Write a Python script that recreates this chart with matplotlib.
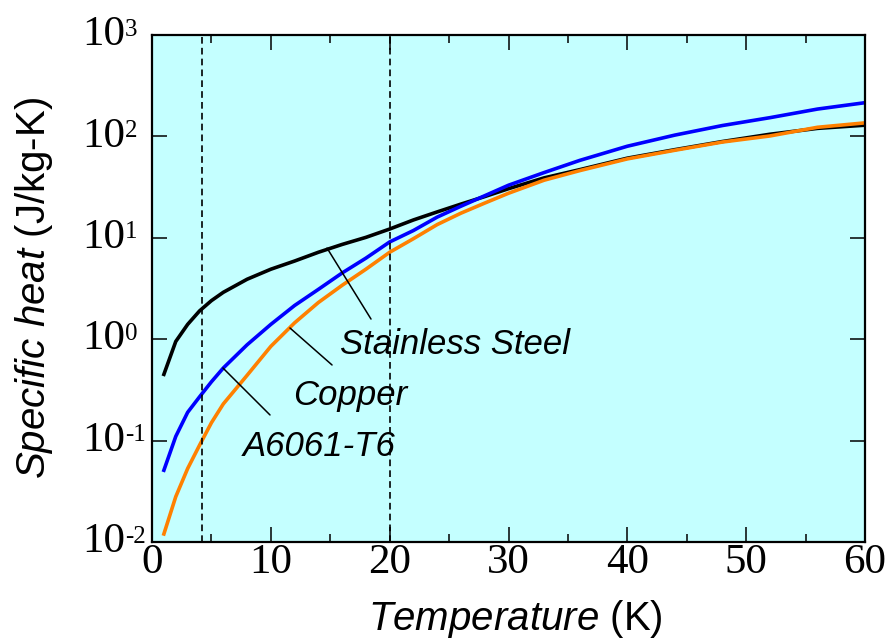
import matplotlib
matplotlib.use('Agg')
import matplotlib.pyplot as plt
from matplotlib.ticker import FixedLocator, NullLocator, NullFormatter

# temperature (K) and specific heat (J/kg-K)
temps = [1, 2, 3, 4, 5, 6, 8, 10, 12, 14, 16, 18, 20, 22, 24, 26, 28, 30,
         33, 36, 40, 44, 48, 52, 56, 60]
stainless = [0.45, 0.95, 1.4, 1.9, 2.4, 2.9, 3.9, 4.9, 5.9, 7.2, 8.6, 10.1,
             12.2, 15, 18, 21.5, 25.5, 30.5, 39, 47, 61, 74, 89, 105, 120, 129]
a6061 = [0.051, 0.11, 0.19, 0.27, 0.38, 0.52, 0.88, 1.4, 2.15, 3.1, 4.5, 6.3,
         9.1, 11.8, 16, 20.5, 26, 33, 44, 58, 80, 103, 128, 153, 186, 215]
copper = [0.012, 0.028, 0.053, 0.09, 0.15, 0.23, 0.44, 0.85, 1.45, 2.3, 3.4,
          4.9, 7.2, 9.8, 13.5, 17.5, 22, 27.5, 37, 46, 60, 73, 88, 101, 123, 136]

x_ticks = [0, 10, 20, 30, 40, 50, 60]
x_minor = [5, 15, 25, 35, 45, 55]
y_exps = [-2, -1, 0, 1, 2, 3]
y_exp_labels = ['-2', '-1', '0', '1', '2', '3']
ref_temps = [4.2, 20]

plt.rcParams['mathtext.fontset'] = 'custom'
plt.rcParams['mathtext.it'] = 'Liberation Sans:italic'
plt.rcParams['mathtext.rm'] = 'Liberation Sans'

fig = plt.figure(figsize=(8.9, 6.43), dpi=100)
ax = fig.add_axes([152 / 890, 1 - 542 / 643, 713 / 890, 507 / 643])
ax.set_facecolor('#c4ffff')

ax.plot(temps, stainless, color='black', lw=2.6)
ax.plot(temps, a6061, color='#0000ff', lw=2.6)
ax.plot(temps, copper, color='#ff8000', lw=2.6)
for t in ref_temps:
    ax.axvline(t, color='black', lw=1.2, dashes=(4, 2.5))

ax.set_yscale('log')
ax.set_xlim(0, 60)
ax.set_ylim(1e-2, 1e3)
ax.set_xticks(x_ticks)
ax.set_xticks(x_minor, minor=True)
ax.set_xticklabels([str(v) for v in x_ticks], family='Liberation Serif', fontsize=31)
ax.yaxis.set_major_locator(FixedLocator([10.0 ** e for e in y_exps]))
ax.yaxis.set_minor_locator(NullLocator())
ax.yaxis.set_major_formatter(NullFormatter())
ax.yaxis.set_minor_formatter(NullFormatter())
ax.tick_params(which='both', direction='in', top=True, right=True, width=1.1)
ax.tick_params(which='major', length=10.8)
ax.tick_params(which='minor', length=5.8)
ax.tick_params(axis='x', pad=1)
for s in ax.spines.values():
    s.set_linewidth(1.6)

# y tick labels as 10 with a small raised exponent
ytr = ax.get_yaxis_transform()
for e, lab in zip(y_exps, y_exp_labels):
    base = ax.text(-0.098, 10.0 ** e, '10', transform=ytr, ha='left', va='center',
                   family='Liberation Serif', fontsize=31)
    ax.annotate(lab, xy=(1, 1), xycoords=base, xytext=(0, -2),
                textcoords='offset points', ha='left', va='top',
                family='Liberation Serif', fontsize=18)

ax.set_xlabel(r'$\mathit{Temperature}$ (K)', fontsize=29, family='Liberation Sans')
ax.xaxis.label.set_va('baseline')
ax.xaxis.set_label_coords(0.51, -0.1736)
ax.set_ylabel(r'$\mathit{Specific\ heat}$ (J/kg-K)', fontsize=29, family='Liberation Sans')
ax.yaxis.set_label_coords(-0.136, 0.5)

# leader lines and curve names
leader = dict(arrowstyle='-', lw=1.1, color='black', shrinkA=0, shrinkB=0)
ax.annotate('', xy=(14.73, 7.92), xytext=(18.43, 1.58), arrowprops=leader)
ax.annotate('', xy=(11.61, 1.29), xytext=(15.15, 0.557), arrowprops=leader)
ax.annotate('', xy=(5.97, 0.52), xytext=(9.93, 0.179), arrowprops=leader)
txt = dict(ha='left', va='baseline', fontsize=25, style='italic', family='Liberation Sans')
ax.text(15.82, 0.714, 'Stainless Steel', **txt)
ax.text(11.87, 0.2245, 'Copper', **txt)
ax.text(7.66, 0.0705, 'A6061-T6', **txt)

fig.savefig('out.png', dpi=100)
